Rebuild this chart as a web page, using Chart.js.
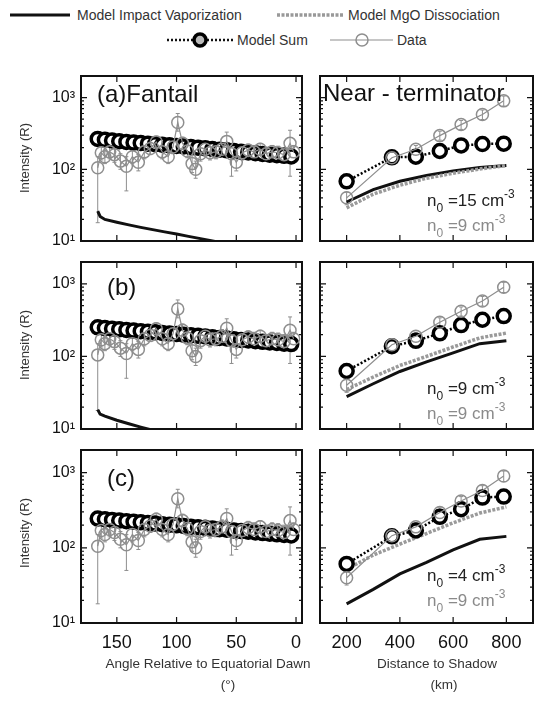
<!DOCTYPE html>
<html>
<head>
<meta charset="utf-8">
<script src="https://cdn.jsdelivr.net/npm/chart.js@4.4.0/dist/chart.umd.min.js"></script>
<style>
  body { margin:0; width:550px; height:702px; position:relative; overflow:hidden; background:#fff;
         font-family: Arial, "Liberation Sans", sans-serif; color:#222; }
  canvas { position:absolute; }
  .t { position:absolute; white-space:nowrap; line-height:1; }
  .leg { font-size:14px; color:#333; }
  .yt { position:absolute; width:120px; text-align:center; font-size:13px; line-height:16px; transform:rotate(-90deg); color:#333; }
  .xt { position:absolute; width:260px; text-align:center; font-size:13.5px; line-height:16px; color:#333; }
  .pl { font-size:24px; color:#111; }
  .n0 { font-size:17px; }
  .n0 sub { font-size:12px; vertical-align:-6px; }
  .n0 sup { font-size:12px; vertical-align:8px; }
  .gray { color:#8a8a8a; }
  svg { position:absolute; }
</style>
</head>
<body>

<!-- legend -->
<svg style="left:10px;top:9px" width="62" height="12"><line x1="0" y1="6" x2="60" y2="6" stroke="#111" stroke-width="3"/></svg>
<div class="t leg" style="left:77px;top:8px">Model Impact Vaporization</div>
<svg style="left:277px;top:9px" width="68" height="12"><line x1="0" y1="6" x2="66" y2="6" stroke="#999" stroke-width="3.5" stroke-dasharray="3 1.5"/></svg>
<div class="t leg" style="left:348px;top:8px">Model MgO Dissociation</div>
<svg style="left:167px;top:31px" width="68" height="18"><line x1="0" y1="9" x2="66" y2="9" stroke="#111" stroke-width="2.5" stroke-dasharray="2 2"/><circle cx="33" cy="9" r="6" fill="#bbb" stroke="#000" stroke-width="3.5"/></svg>
<div class="t leg" style="left:237px;top:33px">Model Sum</div>
<svg style="left:330px;top:31px" width="66" height="18"><line x1="0" y1="9" x2="63" y2="9" stroke="#8e8e8e" stroke-width="1.2"/><circle cx="32" cy="9" r="6" fill="none" stroke="#8e8e8e" stroke-width="1.5"/></svg>
<div class="t leg" style="left:397px;top:33px">Data</div>

<canvas id="aL" width="312" height="185" style="left:0;top:66px"></canvas>
<canvas id="aR" width="233" height="185" style="left:310px;top:66px"></canvas>
<canvas id="bL" width="312" height="187" style="left:0;top:252px"></canvas>
<canvas id="bR" width="233" height="187" style="left:310px;top:252px"></canvas>
<canvas id="cL" width="312" height="262" style="left:0;top:440px"></canvas>
<canvas id="cR" width="233" height="262" style="left:310px;top:440px"></canvas>

<div class="yt" style="left:-35px;top:150px">Intensity (R)</div>
<div class="yt" style="left:-35px;top:337px">Intensity (R)</div>
<div class="yt" style="left:-35px;top:525px">Intensity (R)</div>

<div class="xt" style="left:78px;top:656px">Angle Relative to Equatorial Dawn</div>
<div class="xt" style="left:98px;top:677px">(°)</div>
<div class="xt" style="left:307px;top:656px">Distance to Shadow</div>
<div class="xt" style="left:314px;top:677px">(km)</div>

<div class="t pl" style="left:97px;top:82px">(a)Fantail</div>
<div class="t pl" style="left:107px;top:275px">(b)</div>
<div class="t pl" style="left:107px;top:466px">(c)</div>
<div class="t pl" style="left:323px;top:81px">Near - terminator</div>

<div class="t n0" style="left:427px;top:188px">n<sub>0</sub> =15 cm<sup>-3</sup></div>
<div class="t n0 gray" style="left:427px;top:213px">n<sub>0</sub> =9 cm<sup>-3</sup></div>
<div class="t n0" style="left:427px;top:376px">n<sub>0</sub> =9 cm<sup>-3</sup></div>
<div class="t n0 gray" style="left:427px;top:401px">n<sub>0</sub> =9 cm<sup>-3</sup></div>
<div class="t n0" style="left:427px;top:563px">n<sub>0</sub> =4 cm<sup>-3</sup></div>
<div class="t n0 gray" style="left:427px;top:588px">n<sub>0</sub> =9 cm<sup>-3</sup></div>

<script>
const FONT = 'Arial, "Liberation Sans", sans-serif';

// axis ticks
const angleTicks = [150, 100, 50, 0];
const distTicks = [200, 400, 600, 800];
const yTicks = [10, 100, 1000];
const yLabels = ['10\u00b9', '10\u00b2', '10\u00b3'];

// left column: angle relative to equatorial dawn (deg)
const angleSum = [166,160,154,148,142,136,130,124,118,112,106,100,94,88,82,76,70,64,58,52,46,40,34,28,22,16,10,4];
const sumLeftA = [265,258,252,246,241,236,232,228,224,220,216,212,208,204,200,196,192,188,184,180,176,172,168,164,160,157,154,151];
const sumLeftB = [252,246,241,236,231,227,223,219,215,211,207,203,199,196,192,188,184,180,177,173,169,166,162,159,156,153,150,148];
const sumLeftC = [245,240,235,230,226,222,218,214,210,206,202,199,195,191,188,184,181,177,174,170,167,164,160,157,154,151,148,146];

const angleImpact = [166,164,160,150,140,130,120,110,100,90,80,70,60,50];
const impactLeftA = [26,22,20,18.3,16.8,15.5,14.4,13.4,12.5,11.6,10.8,10,9.3,8.7];
const impactLeftB = [18.5,16,15,13.2,11.8,10.6,9.6,8.7,8,7.4,6.9,6.4,6,5.6];
const impactLeftC = [9.5,8.5,8,7,6.3,5.7,5.2,4.8,4.4,4.1,3.8,3.5,3.3,3.1];

const angleData = [166,163,160,156,152,147,142,137,132,127,122,117,112,107,103,99,95,91,87,84,80,76,72,67,62,58,54,50,45,40,35,30,25,20,15,10,5,2];
const dataLeft   = [105,170,150,175,160,130,110,150,125,175,195,240,175,150,205,450,230,180,120,100,165,190,170,175,190,245,165,125,170,185,175,190,165,175,170,160,230,175];
const dataLeftLo = [18,135,120,140,125,100,50,120,95,140,160,195,140,120,165,340,185,145,90,75,130,155,135,140,150,190,80,95,135,150,140,150,130,140,135,125,80,140];
const dataLeftHi = [150,210,185,215,200,165,150,185,160,215,240,290,215,185,250,600,280,220,155,130,205,235,210,215,235,330,205,160,210,225,215,230,200,215,210,200,350,215];

// right column: distance to shadow (km)
const distModel = [200,300,400,500,600,700,800];
const impactRightA = [35,52,68,82,95,106,113];
const mgoRightA    = [29,45,60,75,88,101,113];
const impactRightB = [28,42,62,84,112,150,165];
const mgoRightB    = [35,52,75,100,135,180,210];
const impactRightC = [18,28,45,64,94,130,142];
const mgoRightC    = [52,80,112,155,215,290,350];

const distPts = [200,370,460,550,630,710,790];
const sumRightA = [68,147,150,180,215,225,228];
const sumRightB = [63,138,164,208,270,320,360];
const sumRightC = [61,142,170,258,326,466,480];
const dataRight   = [40,145,190,295,420,580,900];
const dataRightLo = [32,125,165,255,360,495,760];
const dataRightHi = [48,165,215,340,480,670,1050];

const pts = (xs, ys) => xs.map((x, i) => ({ x, y: ys[i] }));

const dataSet = (xs, ys, lo, hi) => ({
  data: pts(xs, ys), showLine: true, borderColor: '#8e8e8e', borderWidth: 1.2,
  pointRadius: 6, pointBorderWidth: 1.5, pointBorderColor: '#8e8e8e',
  pointBackgroundColor: 'rgba(0,0,0,0)', errLo: lo, errHi: hi
});
const sumSet = (xs, ys) => ({
  data: pts(xs, ys), showLine: true, borderColor: '#000', borderWidth: 2.5, borderDash: [2, 2],
  pointRadius: 6.5, pointBorderWidth: 3.5, pointBorderColor: '#000', pointBackgroundColor: '#fff'
});
const mgoSet = (xs, ys) => ({
  data: pts(xs, ys), showLine: true, borderColor: '#9a9a9a', borderWidth: 3.5, borderDash: [3, 1.5],
  pointRadius: 0
});
const impactSet = (xs, ys) => ({
  data: pts(xs, ys), showLine: true, borderColor: '#111', borderWidth: 3, pointRadius: 0
});

const errBars = {
  id: 'errBars',
  beforeDatasetsDraw(chart) {
    const { ctx, chartArea: a, scales: { x, y } } = chart;
    ctx.save();
    ctx.beginPath(); ctx.rect(a.left, a.top, a.right - a.left, a.bottom - a.top); ctx.clip();
    ctx.strokeStyle = '#8e8e8e'; ctx.lineWidth = 1;
    chart.data.datasets.forEach(ds => {
      if (!ds.errLo) return;
      ds.data.forEach((p, i) => {
        const px = x.getPixelForValue(p.x);
        const y1 = y.getPixelForValue(ds.errLo[i]);
        const y2 = y.getPixelForValue(ds.errHi[i]);
        ctx.beginPath();
        ctx.moveTo(px, y1); ctx.lineTo(px, y2);
        ctx.moveTo(px - 2, y1); ctx.lineTo(px + 2, y1);
        ctx.moveTo(px - 2, y2); ctx.lineTo(px + 2, y2);
        ctx.stroke();
      });
    });
    ctx.restore();
  }
};

// box with inward major/minor ticks on all four sides
const frame = {
  id: 'frame',
  afterDatasetsDraw(chart, args, opts) {
    const { ctx, chartArea: a, scales: { x, y } } = chart;
    const seg = (x1, y1, x2, y2) => { ctx.moveTo(x1, y1); ctx.lineTo(x2, y2); };
    ctx.save();
    ctx.strokeStyle = '#111';
    ctx.lineWidth = 1.2;
    ctx.beginPath();
    for (let d = 10; d <= 1000; d *= 10) {
      for (let k = 1; k <= 9; k++) {
        const v = d * k;
        if (v > 2000) break;
        const py = y.getPixelForValue(v);
        const len = k === 1 ? 6 : 3;
        seg(a.left, py, a.left + len, py);
        seg(a.right, py, a.right - len, py);
      }
    }
    opts.xticks.forEach(v => {
      const px = x.getPixelForValue(v);
      seg(px, a.bottom, px, a.bottom - 6);
      seg(px, a.top, px, a.top + 6);
    });
    ctx.stroke();
    ctx.lineWidth = 2;
    ctx.strokeRect(a.left, a.top, a.right - a.left, a.bottom - a.top);
    ctx.restore();
  }
};

function makePanel(id, left, bottom, sets) {
  const xt = left ? angleTicks : distTicks;
  new Chart(document.getElementById(id), {
    type: 'scatter',
    data: { datasets: sets },
    options: {
      responsive: false,
      animation: false,
      events: [],
      layout: { padding: { left: left ? 0 : 3, right: 3, top: 3, bottom: bottom ? 0 : 3 } },
      plugins: { legend: { display: false }, tooltip: { enabled: false }, frame: { xticks: xt } },
      scales: {
        x: {
          type: 'linear', min: left ? -5 : 100, max: left ? 180 : 900, reverse: left,
          display: bottom,
          grid: { display: false, drawTicks: false }, border: { display: false },
          afterBuildTicks: s => { s.ticks = xt.map(v => ({ value: v })); },
          afterFit: s => {
            s.height = bottom ? 79 : 0;
            s.paddingLeft = 0; s.paddingRight = 0;
          },
          ticks: { font: { size: 18, family: FONT }, color: '#111', padding: 9, maxRotation: 0, autoSkip: false }
        },
        y: {
          type: 'logarithmic', min: 10, max: 2000,
          display: left,
          grid: { display: false, drawTicks: false }, border: { display: false },
          afterBuildTicks: s => { s.ticks = yTicks.map(v => ({ value: v })); },
          afterFit: s => {
            s.width = left ? 81 : 0;
            s.paddingTop = 0; s.paddingBottom = 0;
          },
          ticks: { font: { size: 16, family: FONT }, color: '#111', padding: 6,
                   callback: v => yLabels[yTicks.indexOf(v)] }
        }
      }
    },
    plugins: [errBars, frame]
  });
}

makePanel('aL', true, false, [
  dataSet(angleData, dataLeft, dataLeftLo, dataLeftHi),
  sumSet(angleSum, sumLeftA),
  impactSet(angleImpact, impactLeftA)
]);
makePanel('bL', true, false, [
  dataSet(angleData, dataLeft, dataLeftLo, dataLeftHi),
  sumSet(angleSum, sumLeftB),
  impactSet(angleImpact, impactLeftB)
]);
makePanel('cL', true, true, [
  dataSet(angleData, dataLeft, dataLeftLo, dataLeftHi),
  sumSet(angleSum, sumLeftC),
  impactSet(angleImpact, impactLeftC)
]);
makePanel('aR', false, false, [
  dataSet(distPts, dataRight, dataRightLo, dataRightHi),
  sumSet(distPts, sumRightA),
  mgoSet(distModel, mgoRightA),
  impactSet(distModel, impactRightA)
]);
makePanel('bR', false, false, [
  dataSet(distPts, dataRight, dataRightLo, dataRightHi),
  sumSet(distPts, sumRightB),
  mgoSet(distModel, mgoRightB),
  impactSet(distModel, impactRightB)
]);
makePanel('cR', false, true, [
  dataSet(distPts, dataRight, dataRightLo, dataRightHi),
  sumSet(distPts, sumRightC),
  mgoSet(distModel, mgoRightC),
  impactSet(distModel, impactRightC)
]);
</script>
</body>
</html>
